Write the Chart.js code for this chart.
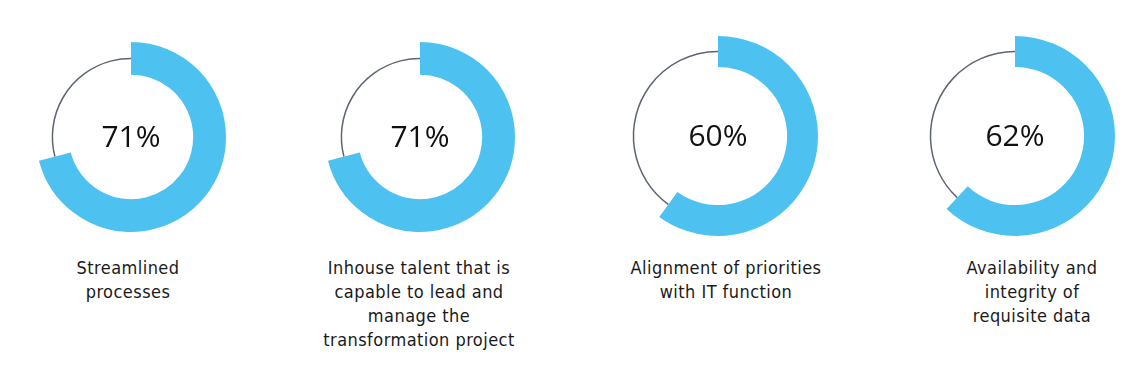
<!DOCTYPE html>
<html>
<head>
<meta charset="utf-8">
<script src="https://cdn.jsdelivr.net/npm/chart.js@4.4.1/dist/chart.umd.min.js"></script>
<style>
  html, body { margin: 0; padding: 0; background: #fff; }
  #wrap { position: relative; width: 1143px; height: 366px; overflow: hidden; }
  .ring { position: absolute; width: 220px; height: 220px; }
  .label {
    position: absolute; top: 256px; width: 260px; text-align: center;
    font-family: "Liberation Sans Narrow", "DejaVu Sans Condensed", sans-serif;
    font-size: 18px; line-height: 24px; letter-spacing: 0.45px; color: #1a1a1a;
  }
</style>
</head>
<body>
<div id="wrap"></div>
<script>
// --- DATA ---
const categories = [
  ["Streamlined", "processes"],
  ["Inhouse talent that is", "capable to lead and", "manage the", "transformation project"],
  ["Alignment of priorities", "with IT function"],
  ["Availability and", "integrity of", "requisite data"]
];
const values = [71, 71, 60, 62];

// --- LAYOUT (ring centres, sizes, label centres) ---
const ringCenters = [[131, 137], [420, 137], [718, 136], [1015, 136]];
const ringOuter = [95, 95, 100, 100];
const ringInner = [72, 72, 76, 76];
const labelCenters = [128, 419, 726, 1032];

const BLUE = "#4dc2f0";
const GREY = "#5d6572";

// draws the thin grey line for the remainder + the % in the middle
const ringExtras = {
  id: "ringExtras",
  afterDatasetsDraw(chart) {
    const ctx = chart.ctx;
    const rest = chart.getDatasetMeta(0).data[1];
    const p = rest.getProps(["x", "y", "startAngle", "endAngle", "innerRadius", "outerRadius"]);
    ctx.save();
    ctx.strokeStyle = GREY;
    ctx.lineWidth = 1.5;
    ctx.beginPath();
    ctx.arc(p.x, p.y, (p.innerRadius + p.outerRadius) / 2, p.startAngle, p.endAngle);
    ctx.stroke();

    ctx.fillStyle = "#111";
    ctx.font = '400 30px "Open Sans", "DejaVu Sans", sans-serif';
    ctx.textAlign = "center";
    ctx.textBaseline = "middle";
    ctx.fillText(chart.data.datasets[0].data[0] + "%", p.x, p.y + 1);
    ctx.restore();
  }
};

const wrap = document.getElementById("wrap");

values.forEach((v, i) => {
  const canvas = document.createElement("canvas");
  canvas.className = "ring";
  canvas.width = 220;
  canvas.height = 220;
  canvas.style.left = (ringCenters[i][0] - 110) + "px";
  canvas.style.top = (ringCenters[i][1] - 110) + "px";
  wrap.appendChild(canvas);

  new Chart(canvas.getContext("2d"), {
    type: "doughnut",
    data: {
      labels: ["value", "rest"],
      datasets: [{
        data: [v, 100 - v],
        backgroundColor: [BLUE, "rgba(0,0,0,0)"],
        borderWidth: 0,
        radius: ringOuter[i],
        cutout: ringInner[i]
      }]
    },
    options: {
      responsive: false,
      animation: false,
      events: [],
      layout: { padding: 0 },
      plugins: { legend: { display: false }, tooltip: { enabled: false } }
    },
    plugins: [ringExtras]
  });

  const lbl = document.createElement("div");
  lbl.className = "label";
  lbl.style.left = (labelCenters[i] - 130) + "px";
  lbl.innerHTML = categories[i].join("<br>");
  wrap.appendChild(lbl);
});
</script>
</body>
</html>
